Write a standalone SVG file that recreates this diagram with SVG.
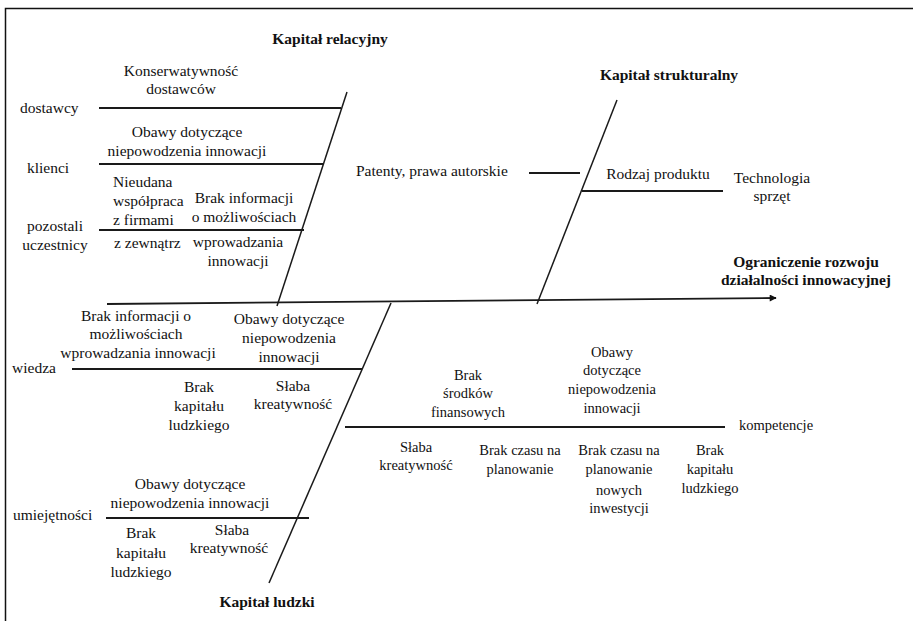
<svg xmlns="http://www.w3.org/2000/svg" width="913" height="621" viewBox="0 0 913 621">
<style>
text{font-family:"Liberation Serif",Tinos,"Times New Roman","DejaVu Serif",serif;fill:#111;text-anchor:middle}
.t{font-size:15.5px}
.s{font-size:14.5px}
.b{font-size:15.5px;font-weight:bold}
.l{text-anchor:start}
.ln{stroke:#1a1a1a;stroke-width:1.8;fill:none}
.sp{stroke:#1a1a1a;stroke-width:1.5;fill:none}
</style>
<defs>
<marker id="ah" viewBox="0 0 10 10" refX="9" refY="5" markerWidth="9" markerHeight="7" markerUnits="userSpaceOnUse" orient="auto">
<path d="M0,0 L10,5 L0,10 z" fill="#111"/>
</marker>
</defs>
<rect x="5.5" y="8.5" width="920" height="630" fill="none" stroke="#111" stroke-width="1.5"/>
<g id="connectors">
<line class="ln" x1="107" y1="304" x2="776" y2="298" marker-end="url(#ah)"/>
<line class="sp" x1="347" y1="92" x2="277" y2="306"/>
<line class="sp" x1="617" y1="100" x2="537" y2="304"/>
<line class="sp" x1="391" y1="303" x2="269" y2="583"/>
<line class="ln" x1="99" y1="108" x2="341" y2="108"/>
<line class="ln" x1="99" y1="164" x2="324" y2="164"/>
<line class="ln" x1="99" y1="230" x2="304" y2="230"/>
<line class="ln" x1="529" y1="173" x2="580" y2="173"/>
<line class="ln" x1="582" y1="191" x2="723" y2="191"/>
<line class="ln" x1="72" y1="369" x2="362" y2="369"/>
<line class="ln" x1="106" y1="518" x2="309" y2="518"/>
<line class="ln" x1="345" y1="427" x2="725" y2="427"/>
</g>
<g font-family="Liberation Serif, Tinos, Times New Roman, DejaVu Serif, serif">
<g id="kapital-relacyjny">
<text class="b" x="330" y="44">Kapitał relacyjny</text>
</g>
<g id="kapital-strukturalny">
<text class="b" x="669" y="80">Kapitał strukturalny</text>
</g>
<g id="kapital-ludzki">
<text class="b" x="267" y="607">Kapitał ludzki</text>
</g>
<g id="effect">
<text class="b" x="806" y="267">Ograniczenie rozwoju</text>
<text class="b" x="806" y="285">działalności innowacyjnej</text>
</g>
<g id="dostawcy">
<text class="t l" x="20" y="113">dostawcy</text>
<text class="t" x="181" y="76">Konserwatywność</text>
<text class="t" x="181" y="94">dostawców</text>
</g>
<g id="klienci">
<text class="t l" x="27" y="173">klienci</text>
<text class="t" x="187" y="137">Obawy dotyczące</text>
<text class="t" x="187" y="156">niepowodzenia innowacji</text>
</g>
<g id="pozostali">
<text class="t" x="55" y="231">pozostali</text>
<text class="t" x="55" y="250">uczestnicy</text>
<text class="t l" x="113" y="187">Nieudana</text>
<text class="t l" x="113" y="206">współpraca</text>
<text class="t l" x="113" y="225">z firmami</text>
<text class="t l" x="114" y="248">z zewnątrz</text>
<text class="t" x="244" y="203">Brak informacji</text>
<text class="t" x="244" y="222">o możliwościach</text>
<text class="t" x="238" y="247">wprowadzania</text>
<text class="t" x="238" y="266">innowacji</text>
</g>
<g id="patenty">
<text class="t l" x="356" y="176">Patenty, prawa autorskie</text>
</g>
<g id="rodzaj">
<text class="t" x="658" y="179">Rodzaj produktu</text>
<text class="t" x="772" y="183">Technologia</text>
<text class="t" x="772" y="201">sprzęt</text>
</g>
<g id="wiedza">
<text class="t l" x="12" y="373">wiedza</text>
<text class="t" x="136" y="321">Brak informacji o</text>
<text class="t" x="136" y="339">możliwościach</text>
<text class="t" x="138" y="358">wprowadzania innowacji</text>
<text class="t" x="289" y="324">Obawy dotyczące</text>
<text class="t" x="289" y="343">niepowodzenia</text>
<text class="t" x="289" y="362">innowacji</text>
<text class="t" x="199" y="392">Brak</text>
<text class="t" x="199" y="411">kapitału</text>
<text class="t" x="199" y="430">ludzkiego</text>
<text class="t" x="293" y="391">Słaba</text>
<text class="t" x="293" y="409">kreatywność</text>
</g>
<g id="umiejetnosci">
<text class="t l" x="13" y="520">umiejętności</text>
<text class="t" x="190" y="489">Obawy dotyczące</text>
<text class="t" x="190" y="508">niepowodzenia innowacji</text>
<text class="t" x="141" y="538">Brak</text>
<text class="t" x="141" y="558">kapitału</text>
<text class="t" x="141" y="577">ludzkiego</text>
<text class="t" x="232" y="535">Słaba</text>
<text class="t" x="229" y="553">kreatywność</text>
</g>
<g id="kompetencje">
<text class="s l" x="739" y="430">kompetencje</text>
<text class="s" x="468" y="380">Brak</text>
<text class="s" x="468" y="398">środków</text>
<text class="s" x="468" y="417">finansowych</text>
<text class="s" x="612" y="357">Obawy</text>
<text class="s" x="612" y="375">dotyczące</text>
<text class="s" x="612" y="394">niepowodzenia</text>
<text class="s" x="612" y="413">innowacji</text>
<text class="s" x="416" y="452">Słaba</text>
<text class="s" x="416" y="470">kreatywność</text>
<text class="s" x="520" y="455">Brak czasu na</text>
<text class="s" x="520" y="474">planowanie</text>
<text class="s" x="619" y="455">Brak czasu na</text>
<text class="s" x="619" y="474">planowanie</text>
<text class="s" x="619" y="495">nowych</text>
<text class="s" x="619" y="513">inwestycji</text>
<text class="s" x="710" y="455">Brak</text>
<text class="s" x="710" y="474">kapitału</text>
<text class="s" x="710" y="493">ludzkiego</text>
</g>
</g>
</svg>
